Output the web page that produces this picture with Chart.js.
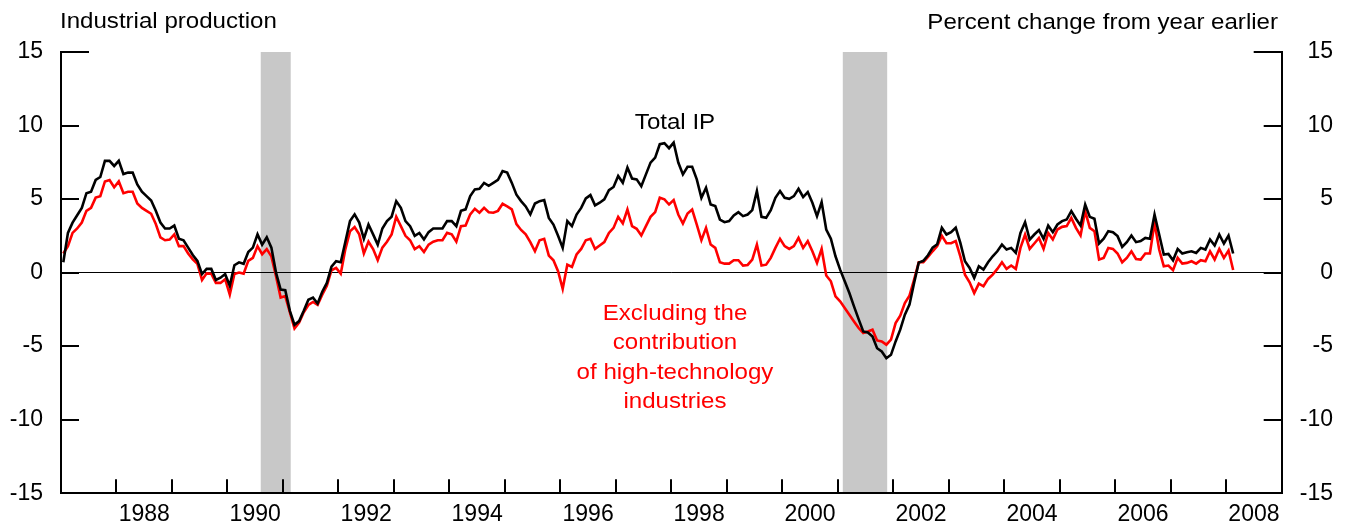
<!DOCTYPE html>
<html>
<head>
<meta charset="utf-8">
<script src="https://cdn.jsdelivr.net/npm/chart.js@4.4.1/dist/chart.umd.min.js"></script>
<style>
  body { margin: 0; background: #fff; }
  #wrap { width: 1353px; height: 525px; }
</style>
</head>
<body>
<div id="wrap"><canvas id="chartIP"></canvas></div>
<script>
// Industrial production, percent change from year earlier, monthly Jan 1987 - Feb 2008
const startYear = 1987;
const totalIP = [
  0.7, 2.7, 3.4, 3.9, 4.4, 5.4, 5.5, 6.3, 6.5, 7.6, 7.6, 7.25,
  7.6, 6.7, 6.8, 6.8, 6.0, 5.5, 5.2, 4.9, 4.2, 3.4, 3.0, 3.0,
  3.2, 2.3, 2.2, 1.7, 1.2, 0.8, -0.1, 0.25, 0.25, -0.5, -0.35, -0.1,
  -0.9, 0.5, 0.7, 0.6, 1.4, 1.7, 2.6, 1.9, 2.4, 1.7, 0.0, -1.15,
  -1.2, -2.6, -3.55, -3.3, -2.6, -1.85, -1.7, -2.1, -1.3, -0.7, 0.4, 0.77,
  0.7, 2.1, 3.5, 3.96, 3.4, 2.3, 3.27, 2.6, 1.9, 3.0, 3.5, 3.8,
  4.86, 4.4, 3.5, 3.16, 2.5, 2.7, 2.25, 2.75, 3.0, 3.0, 3.0, 3.5,
  3.5, 3.16, 4.2, 4.3, 5.2, 5.66, 5.7, 6.1, 5.9, 6.1, 6.3, 6.9,
  6.8, 6.1, 5.3, 4.86, 4.5, 3.96, 4.7, 4.86, 4.93, 3.72, 3.27, 2.5,
  1.68, 3.5, 3.16, 3.95, 4.4, 5.04, 5.27, 4.57, 4.75, 4.98, 5.61, 5.82,
  6.57, 6.11, 7.14, 6.39, 6.34, 5.88, 6.68, 7.48, 7.82, 8.73, 8.8, 8.46,
  8.84, 7.48, 6.68, 7.2, 7.2, 6.34, 5.09, 5.77, 4.63, 4.52, 3.61, 3.43,
  3.5, 3.88, 4.11, 3.84, 3.95, 4.25, 5.54, 3.79, 3.72, 4.25, 5.09, 5.54,
  5.09, 5.02, 5.2, 5.7, 5.14, 5.48, 4.75, 3.84, 4.79, 2.93, 2.3, 1.11,
  0.2, -0.59, -1.39, -2.3, -3.16, -4.0, -4.07, -4.34, -5.14, -5.36, -5.82, -5.59,
  -4.68, -3.88, -2.86, -2.18, -0.7, 0.68, 0.8, 1.18, 1.7, 1.93, 3.05, 2.59,
  2.75, 3.05, 2.02, 0.77, 0.32, -0.36, 0.43, 0.2, 0.7, 1.11, 1.45, 1.91,
  1.57, 1.68, 1.34, 2.7, 3.43, 2.25, 2.59, 2.89, 2.3, 3.2, 2.75, 3.27,
  3.5, 3.61, 4.18, 3.66, 3.2, 4.63, 3.79, 3.66, 1.98, 2.3, 2.82, 2.75,
  2.48, 1.75, 2.07, 2.52, 2.07, 2.14, 2.36, 2.3, 3.95, 2.59, 1.23, 1.27,
  0.84, 1.61, 1.3, 1.39, 1.45, 1.34, 1.68, 1.57, 2.25, 1.84, 2.59, 1.98,
  2.52, 1.3
];
const exHighTech = [
  1.3, 1.8, 2.7, 3.0, 3.4, 4.2, 4.4, 5.1, 5.2, 6.2, 6.3, 5.8,
  6.2, 5.4, 5.5, 5.5, 4.7, 4.4, 4.2, 4.0, 3.3, 2.4, 2.2, 2.25,
  2.6, 1.8, 1.8, 1.3, 0.9, 0.6, -0.5, -0.05, -0.07, -0.7, -0.7, -0.45,
  -1.5, -0.1, 0.0, -0.07, 0.8, 1.0, 1.8, 1.25, 1.6, 1.1, -0.25, -1.7,
  -1.6, -2.7, -3.8, -3.4, -2.7, -2.2, -2.0, -2.2, -1.5, -0.9, 0.16, 0.32,
  -0.07, 1.6, 2.8, 3.1, 2.6, 1.3, 2.1, 1.6, 0.84, 1.7, 2.1, 2.6,
  3.8, 3.16, 2.5, 2.2, 1.6, 1.8, 1.4, 1.9, 2.1, 2.2, 2.2, 2.7,
  2.6, 2.1, 3.16, 3.2, 3.96, 4.34, 4.07, 4.4, 4.1, 4.07, 4.2, 4.68,
  4.5, 4.3, 3.3, 2.9, 2.6, 2.07, 1.45, 2.2, 2.3, 1.16, 0.84, 0.09,
  -1.1, 0.54, 0.39, 1.23, 1.61, 2.2, 2.3, 1.61, 1.84, 2.07, 2.7, 3.04,
  3.79, 3.34, 4.29, 3.16, 2.98, 2.52, 3.16, 3.79, 4.11, 5.09, 4.98, 4.63,
  4.93, 3.95, 3.34, 4.02, 4.29, 3.27, 2.2, 3.04, 1.91, 1.68, 0.7, 0.61,
  0.61, 0.84, 0.84, 0.48, 0.52, 0.89, 1.91, 0.48, 0.54, 1.0, 1.68, 2.3,
  1.8, 1.61, 1.8, 2.36, 1.68, 2.14, 1.45, 0.66, 1.61, -0.2, -0.59, -1.61,
  -1.95, -2.4, -2.86, -3.32, -3.77, -4.11, -4.0, -3.88, -4.61, -4.68, -4.9, -4.56,
  -3.43, -2.93, -2.07, -1.57, -0.48, 0.7, 0.7, 1.07, 1.45, 1.8, 2.5, 2.0,
  2.0, 2.14, 1.1, -0.14, -0.66, -1.39, -0.75, -0.93, -0.43, -0.14, 0.25, 0.7,
  0.25, 0.48, 0.25, 1.68, 2.59, 1.61, 1.98, 2.36, 1.61, 2.7, 2.25, 2.93,
  3.11, 3.16, 3.72, 3.04, 2.52, 4.18, 3.04, 2.82, 0.89, 1.0, 1.68, 1.61,
  1.3, 0.7, 1.0, 1.45, 0.93, 0.89, 1.3, 1.3, 3.38, 1.57, 0.43, 0.48,
  0.16, 1.0, 0.61, 0.66, 0.77, 0.61, 0.84, 0.77, 1.45, 0.89, 1.61, 1.0,
  1.5, 0.18
];
// recession bands (fractional years)
const recessionStart = [1990.6, 2001.09];
const recessionEnd = [1991.14, 2001.89];
const yTicks = [-15, -10, -5, 0, 5, 10, 15];
const yearLabels = [1988, 1990, 1992, 1994, 1996, 1998, 2000, 2002, 2004, 2006, 2008];
const redText = ['Excluding the', 'contribution', 'of high-technology', 'industries'];

const FONT = '"Liberation Sans", Arial, sans-serif';

function toPoints(arr) {
  return arr.map((v, i) => ({x: startYear + (i + 0.5) / 12, y: v}));
}

// text in the reference is a bit wider than normal Arial
function wideText(ctx, txt, x, y, align, color) {
  ctx.save();
  ctx.font = '21.5px ' + FONT;
  ctx.fillStyle = color;
  ctx.textAlign = 'left';
  ctx.textBaseline = 'alphabetic';
  const w = ctx.measureText(txt).width * 1.12;
  let left = x;
  if (align === 'center') left = x - w / 2;
  else if (align === 'right') left = x - w;
  ctx.translate(left, y);
  ctx.scale(1.12, 1);
  ctx.fillText(txt, 0, 0);
  ctx.restore();
}

const decor = {
  id: 'decor',
  beforeDraw(chart) {
    const {ctx, chartArea: a, scales: {x}} = chart;
    ctx.save();
    ctx.fillStyle = '#c8c8c8';
    recessionStart.forEach((s, i) => {
      const x0 = x.getPixelForValue(s), x1 = x.getPixelForValue(recessionEnd[i]);
      ctx.fillRect(x0, a.top, x1 - x0, a.bottom - a.top);
    });
    ctx.restore();
  },
  afterDraw(chart) {
    const {ctx, chartArea: a, scales: {x, y}} = chart;
    ctx.save();
    ctx.strokeStyle = '#000';
    ctx.lineWidth = 2;
    ctx.beginPath();
    // year ticks, pointing up into the plot
    for (let yr = startYear + 1; yr <= 2008; yr++) {
      const px = Math.round(x.getPixelForValue(yr));
      ctx.moveTo(px, a.bottom);
      ctx.lineTo(px, a.bottom - 14);
    }
    // value ticks on both sides, pointing in
    yTicks.forEach(v => {
      const py = Math.round(y.getPixelForValue(v));
      const len = v === 15 ? 28 : 18;
      ctx.moveTo(a.left, py); ctx.lineTo(a.left + len, py);
      ctx.moveTo(a.right, py); ctx.lineTo(a.right - len, py);
    });
    ctx.stroke();
    ctx.restore();

    wideText(ctx, 'Industrial production', 60, 28, 'left', '#000');
    wideText(ctx, 'Percent change from year earlier', 1278, 29, 'right', '#000');
    wideText(ctx, 'Total IP', 675, 129, 'center', '#000');
    redText.forEach((t, i) => wideText(ctx, t, 675, 319.5 + i * 29.5, 'center', '#ff0000'));
  }
};

new Chart(document.getElementById('chartIP'), {
  type: 'line',
  data: {
    datasets: [
      {label: 'Total IP', data: toPoints(totalIP), borderColor: '#000', borderWidth: 2.6, pointRadius: 0, tension: 0, order: 0},
      {label: 'Excluding high-tech', data: toPoints(exHighTech), borderColor: '#ff0000', borderWidth: 2.6, pointRadius: 0, tension: 0, order: 1}
    ]
  },
  options: {
    responsive: true,
    maintainAspectRatio: false,
    animation: false,
    events: [],
    layout: {padding: {top: 52, right: 20, left: 0, bottom: 0}},
    plugins: {legend: {display: false}, tooltip: {enabled: false}},
    scales: {
      x: {
        type: 'linear', min: 1987, max: 2009,
        afterBuildTicks: s => { s.ticks = yearLabels.map(v => ({value: v + 0.5})); },
        afterFit: s => { s.height = 31.7; },
        grid: {color: 'rgba(0,0,0,0)', drawTicks: false},
        border: {display: true, color: '#000', width: 2},
        ticks: {
          maxRotation: 0, autoSkip: false, padding: 8, color: '#000',
          font: {family: FONT, size: 23},
          callback: v => String(Math.floor(v))
        }
      },
      y: {
        position: 'left', min: -15, max: 15,
        afterBuildTicks: s => { s.ticks = yTicks.map(v => ({value: v})); },
        afterFit: s => { s.width = 61; },
        grid: {color: c => (c.tick && c.tick.value === 0 ? '#000' : 'rgba(0,0,0,0)'), lineWidth: 1, drawTicks: false},
        border: {display: true, color: '#000', width: 2},
        ticks: {padding: 18, color: '#000', font: {family: FONT, size: 23}}
      },
      y2: {
        position: 'right', min: -15, max: 15,
        afterBuildTicks: s => { s.ticks = yTicks.map(v => ({value: v})); },
        afterFit: s => { s.width = 51.3; },
        grid: {drawOnChartArea: false, drawTicks: false},
        border: {display: true, color: '#000', width: 2},
        ticks: {crossAlign: 'far', color: '#000', font: {family: FONT, size: 23}}
      }
    }
  },
  plugins: [decor]
});
</script>
</body>
</html>
